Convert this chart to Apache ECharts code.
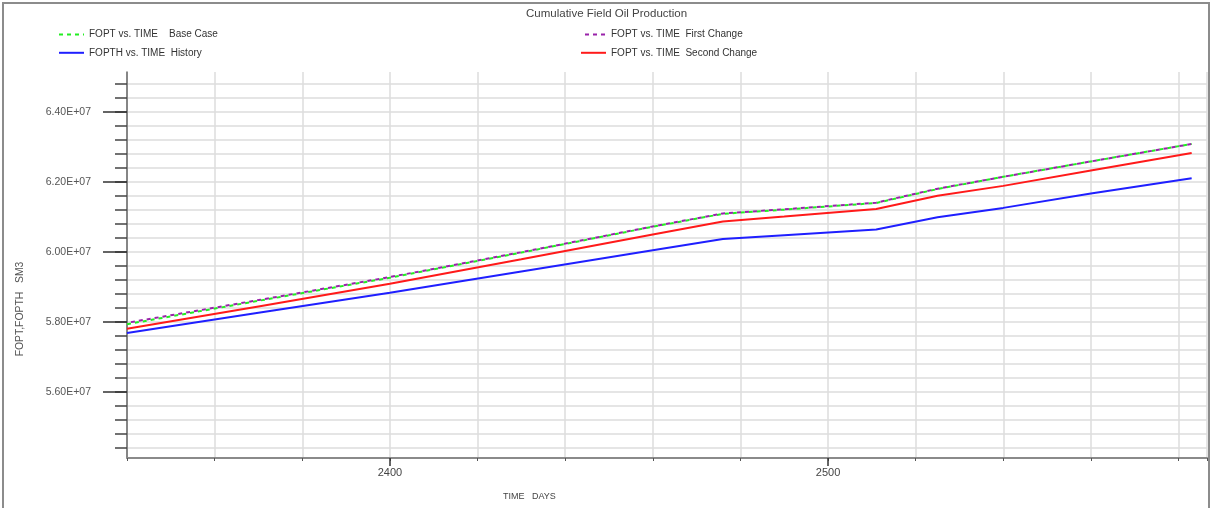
<!DOCTYPE html>
<html>
<head>
<meta charset="utf-8">
<script src="https://cdn.jsdelivr.net/npm/echarts@6/dist/echarts.min.js"></script>
<style>
html,body{margin:0;padding:0;background:#fff;}
#chart{width:1212px;height:508px;}
</style>
</head>
<body>
<div id="chart"></div>
<script>
// ---- data ----
var titleText = 'Cumulative Field Oil Production';
var seriesNames = ['FOPT vs. TIME    Base Case', 'FOPTH vs. TIME  History', 'FOPT vs. TIME  First Change', 'FOPT vs. TIME  Second Change'];
var days = [2340, 2370, 2400, 2430, 2460, 2476, 2490, 2511, 2525, 2540, 2560, 2583];
var baseCase     = [5.793e7, 5.860e7, 5.926e7, 5.998e7, 6.072e7, 6.109e7, 6.121e7, 6.140e7, 6.180e7, 6.215e7, 6.259e7, 6.309e7];
var historyVals  = [5.768e7, 5.826e7, 5.883e7, 5.944e7, 6.005e7, 6.037e7, 6.048e7, 6.064e7, 6.099e7, 6.126e7, 6.167e7, 6.211e7];
var firstChange  = [5.797e7, 5.862e7, 5.928e7, 5.999e7, 6.073e7, 6.110e7, 6.122e7, 6.141e7, 6.181e7, 6.215e7, 6.259e7, 6.309e7];
var secondChange = [5.780e7, 5.844e7, 5.909e7, 5.979e7, 6.050e7, 6.087e7, 6.101e7, 6.123e7, 6.161e7, 6.189e7, 6.233e7, 6.283e7];
var xLabelValues = [2400, 2500];
var yLabelValues = [5.6e7, 5.8e7, 6.0e7, 6.2e7, 6.4e7];
var yMinorValues = [5.44e7, 5.48e7, 5.52e7, 5.56e7, 5.60e7, 5.64e7, 5.68e7, 5.72e7, 5.76e7, 5.80e7,
                    5.84e7, 5.88e7, 5.92e7, 5.96e7, 6.00e7, 6.04e7, 6.08e7, 6.12e7, 6.16e7, 6.20e7,
                    6.24e7, 6.28e7, 6.32e7, 6.36e7, 6.40e7, 6.44e7, 6.48e7];
var xAxisTitle = 'TIME   DAYS';
var yAxisTitle = 'FOPT,FOPTH   SM3';

function pairs(vals) { return days.map(function (d, i) { return [d, vals[i]]; }); }

var FONT = 'Liberation Sans, Arial, sans-serif';
var xMin = 2340, xMax = 2586.5, yMin = 5.41e7, yMax = 6.515e7;

var legendCommon = {
  orient: 'vertical', padding: 0, itemGap: 7, itemWidth: 25, itemHeight: 14, top: 29,
  itemStyle: {opacity: 0, color: 'transparent', borderWidth: 0},
  textStyle: {fontFamily: FONT, fontSize: 10, color: '#333'}
};

var chart = echarts.init(document.getElementById('chart'), null, {renderer: 'canvas'});
chart.setOption({
  animation: false,
  backgroundColor: '#ffffff',
  title: {
    text: titleText, left: 526, top: 8, padding: 0,
    textStyle: {fontFamily: FONT, fontSize: 11.5, fontWeight: 'normal', color: '#444'}
  },
  legend: [
    Object.assign({data: [seriesNames[0], seriesNames[1]], left: 58}, legendCommon),
    Object.assign({data: [seriesNames[2], seriesNames[3]], left: 580}, legendCommon)
  ],
  grid: {left: 127, right: 5, top: 72, bottom: 50, containLabel: false},
  xAxis: [
    {type: 'value', position: 'bottom', min: xMin, max: xMax, interval: 20,
     axisLine: {show: true, lineStyle: {color: '#8a8a8a', width: 2}},
     axisTick: {show: true, length: 3, lineStyle: {color: '#555', width: 1}},
     axisLabel: {show: false},
     splitLine: {show: true, lineStyle: {color: '#dcdcdc', width: 1.5}}},
    {type: 'value', position: 'bottom', min: xMin, max: xMax,
     axisLine: {show: false},
     axisTick: {show: true, customValues: xLabelValues, length: 8, lineStyle: {color: '#333', width: 1.5}},
     axisLabel: {show: true, customValues: xLabelValues, margin: 9,
       fontFamily: FONT, fontSize: 11, color: '#444',
       formatter: function (v) { return String(v); }},
     splitLine: {show: false}}
  ],
  yAxis: [
    {type: 'value', position: 'left', min: yMin, max: yMax,
     axisLine: {show: true, lineStyle: {color: '#666', width: 1.5}},
     axisTick: {show: true, customValues: yMinorValues, length: 12, lineStyle: {color: '#444', width: 1.5}},
     axisLabel: {show: false},
     splitLine: {show: true, lineStyle: {color: '#dcdcdc', width: 1.5}}},
    {type: 'value', position: 'left', min: yMin, max: yMax,
     axisLine: {show: false},
     axisTick: {show: true, customValues: yLabelValues, length: 24, lineStyle: {color: '#333', width: 1.5}},
     axisLabel: {show: true, customValues: yLabelValues, margin: 36,
       fontFamily: FONT, fontSize: 10.5, color: '#555',
       formatter: function (v) { return (v / 1e7).toFixed(2) + 'E+07'; }},
     splitLine: {show: false}}
  ],
  graphic: [
    {type: 'rect', silent: true, z: 100,
     shape: {x: 3, y: 3, width: 1206, height: 520},
     style: {fill: 'none', stroke: '#8c8c8c', lineWidth: 2}},
    {type: 'text', left: 503, top: 492, silent: true,
     style: {text: xAxisTitle, fontFamily: FONT, fontSize: 9, fill: '#444'}},
    {type: 'text', x: 20, y: 309, rotation: Math.PI / 2, silent: true,
     style: {text: yAxisTitle, fontFamily: FONT, fontSize: 10.4, fill: '#555', align: 'center', verticalAlign: 'middle'}}
  ],
  series: [
    {name: seriesNames[1], type: 'line', xAxisIndex: 0, yAxisIndex: 0, data: pairs(historyVals),
     showSymbol: false, symbol: 'none', lineStyle: {color: '#1f1fff', width: 2}, itemStyle: {color: '#1f1fff'}, z: 3},
    {name: seriesNames[3], type: 'line', xAxisIndex: 0, yAxisIndex: 0, data: pairs(secondChange),
     showSymbol: false, symbol: 'none', lineStyle: {color: '#ff1a1a', width: 2}, itemStyle: {color: '#ff1a1a'}, z: 4},
    {name: seriesNames[0], type: 'line', xAxisIndex: 0, yAxisIndex: 0, data: pairs(baseCase),
     showSymbol: false, symbol: 'none', lineStyle: {color: '#22ee22', width: 2, type: [4, 4]}, itemStyle: {color: '#22ee22'}, z: 5},
    {name: seriesNames[2], type: 'line', xAxisIndex: 0, yAxisIndex: 0, data: pairs(firstChange),
     showSymbol: false, symbol: 'none', lineStyle: {color: '#9922aa', width: 2, type: [4, 4], dashOffset: 4}, itemStyle: {color: '#9922aa'}, z: 6}
  ]
});
</script>
</body>
</html>
